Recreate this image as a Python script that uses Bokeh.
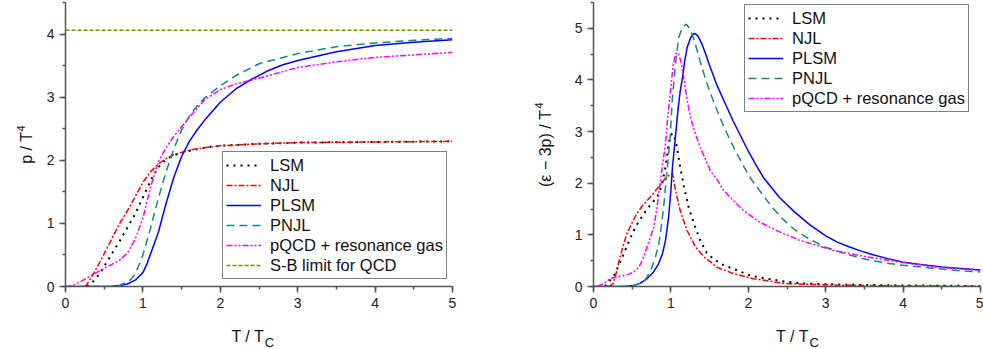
from math import pi

from bokeh.embed import file_html
from bokeh.layouts import column, row
from bokeh.models import Label, Range1d, SingleIntervalTicker
from bokeh.plotting import figure
from bokeh.resources import INLINE

FONT = "Liberation Sans"
AXIS = "#555555"
INK = "#111111"

# ---------------- pressure p / T^4 ----------------
lsm_p_T = [0.28, 0.3, 0.35, 0.4, 0.45, 0.5, 0.55, 0.6, 0.7, 0.8, 0.9, 1.0, 1.1, 1.2,
           1.3, 1.4, 1.6, 1.8, 2.0, 2.5, 3.0, 4.0, 5.0]
lsm_p = [0, 0.02, 0.07, 0.14, 0.22, 0.32, 0.42, 0.52, 0.72, 0.93, 1.15, 1.41, 1.68, 1.89,
         2.01, 2.08, 2.15, 2.2, 2.23, 2.26, 2.28, 2.29, 2.30]

njl_p_T = [0.25, 0.27, 0.3, 0.35, 0.4, 0.45, 0.5, 0.6, 0.7, 0.8, 0.9, 1.0, 1.1, 1.2,
           1.3, 1.4, 1.6, 1.8, 2.0, 2.5, 3.0, 4.0, 5.0]
njl_p = [0, 0.02, 0.08, 0.18, 0.29, 0.4, 0.52, 0.76, 1.0, 1.2, 1.42, 1.65, 1.82, 1.94,
         2.03, 2.09, 2.16, 2.2, 2.23, 2.26, 2.28, 2.29, 2.30]

plsm_p_T = [0, 0.5, 0.6, 0.7, 0.8, 0.9, 1.0, 1.05, 1.1, 1.2, 1.3, 1.4, 1.5, 1.6, 1.7,
            1.8, 2.0, 2.2, 2.4, 2.6, 2.8, 3.0, 3.5, 4.0, 4.5, 5.0]
plsm_p = [0, 0, 0.005, 0.015, 0.04, 0.1, 0.22, 0.35, 0.52, 0.86, 1.32, 1.73, 2.06, 2.3,
          2.48, 2.64, 2.92, 3.13, 3.28, 3.41, 3.51, 3.58, 3.72, 3.82, 3.87, 3.91]

pnjl_p_T = [0, 0.5, 0.6, 0.7, 0.8, 0.85, 0.9, 0.95, 1.0, 1.1, 1.2, 1.3, 1.4, 1.5, 1.6,
            1.7, 1.8, 2.0, 2.2, 2.5, 3.0, 3.5, 4.0, 4.5, 5.0]
pnjl_p = [0, 0, 0.005, 0.02, 0.07, 0.12, 0.2, 0.34, 0.5, 0.93, 1.4, 1.82, 2.18, 2.48, 2.7,
          2.86, 2.99, 3.18, 3.34, 3.53, 3.69, 3.8, 3.86, 3.9, 3.93]

pqcd_p_T = [0, 0.05, 0.1, 0.2, 0.3, 0.4, 0.5, 0.6, 0.7, 0.8, 0.9, 1.0, 1.1, 1.2, 1.3,
            1.4, 1.5, 1.6, 1.8, 2.0, 2.2, 2.5, 3.0, 3.5, 4.0, 4.5, 5.0]
pqcd_p = [0, 0.003, 0.02, 0.08, 0.15, 0.22, 0.29, 0.35, 0.42, 0.53, 0.75, 1.08, 1.58, 1.98,
          2.2, 2.38, 2.53, 2.68, 2.96, 3.12, 3.21, 3.3, 3.47, 3.56, 3.63, 3.67, 3.71]

sb_T = [0, 5]
sb_limit = [4.06, 4.06]

# ---------------- interaction measure (eps - 3p) / T^4 ----------------
lsm_i_T = [0.15, 0.22, 0.28, 0.33, 0.39, 0.45, 0.52, 0.58, 0.65, 0.72, 0.78, 0.84, 0.88,
           0.93, 0.97, 1.0, 1.02, 1.05, 1.08, 1.12, 1.17, 1.23, 1.3, 1.38, 1.47, 1.64,
           1.86, 2.03, 2.24, 2.5, 2.7, 3.1, 3.5, 4.0, 4.5, 5.0]
lsm_i = [0, 0.13, 0.25, 0.42, 0.63, 0.85, 1.08, 1.25, 1.41, 1.55, 1.66, 1.78, 1.95,
         2.31, 2.76, 2.93, 2.97, 2.88, 2.69, 2.31, 1.92, 1.53, 1.21, 0.89, 0.63, 0.44,
         0.31, 0.21, 0.15, 0.09, 0.06, 0.04, 0.03, 0.02, 0.015, 0.01]

njl_i_T = [0.2, 0.25, 0.28, 0.31, 0.37, 0.43, 0.5, 0.56, 0.62, 0.69, 0.76, 0.82, 0.88,
           0.93, 0.98, 1.02, 1.06, 1.12, 1.21, 1.32, 1.43, 1.6, 1.81, 2.07, 2.46, 3.0,
           3.5, 4.0, 5.0]
njl_i = [0, 0.05, 0.18, 0.37, 0.72, 1.02, 1.24, 1.41, 1.54, 1.66, 1.78, 1.89, 2.0,
         2.1, 2.16, 2.19, 1.86, 1.47, 1.08, 0.76, 0.57, 0.37, 0.25, 0.15, 0.06, 0.03,
         0.02, 0.01, 0.005]

plsm_i_T = [0, 0.4, 0.52, 0.6, 0.69, 0.77, 0.84, 0.89, 0.93, 0.97, 1.0, 1.02, 1.05, 1.09,
            1.12, 1.15, 1.18, 1.21, 1.25, 1.28, 1.31, 1.35, 1.4, 1.45, 1.5, 1.6, 1.7,
            1.8, 1.9, 2.0, 2.1, 2.2, 2.4, 2.6, 2.8, 3.0, 3.15, 3.3, 3.45, 3.6, 3.8, 4.0,
            4.25, 4.5, 4.75, 5.0]
plsm_i = [0, 0, 0.02, 0.06, 0.15, 0.27, 0.44, 0.63, 0.89, 1.34, 1.86, 2.31, 2.76, 3.40,
          3.78, 4.05, 4.38, 4.63, 4.8, 4.88, 4.9, 4.85, 4.7, 4.5, 4.28, 3.88, 3.55,
          3.22, 2.92, 2.62, 2.35, 2.1, 1.73, 1.44, 1.19, 0.98, 0.86, 0.77, 0.69, 0.62,
          0.54, 0.47, 0.42, 0.38, 0.35, 0.32]

pnjl_i_T = [0, 0.4, 0.52, 0.6, 0.65, 0.69, 0.75, 0.8, 0.84, 0.87, 0.91, 0.95, 0.99, 1.02,
            1.06, 1.1, 1.15, 1.2, 1.25, 1.3, 1.38, 1.45, 1.51, 1.58, 1.64, 1.75, 1.85,
            1.95, 2.05, 2.15, 2.3, 2.45, 2.6, 2.8, 3.0, 3.2, 3.4, 3.6, 3.8, 4.0, 4.4,
            4.7, 5.0]
pnjl_i = [0, 0, 0.02, 0.06, 0.1, 0.18, 0.35, 0.57, 0.8, 1.08, 1.6, 2.24, 2.88, 3.66,
          4.31, 4.82, 5.02, 5.08, 4.98, 4.78, 4.35, 4.0, 3.75, 3.47, 3.25, 2.88, 2.58,
          2.3, 2.05, 1.85, 1.55, 1.3, 1.1, 0.91, 0.76, 0.66, 0.57, 0.5, 0.45, 0.41, 0.35,
          0.31, 0.28]

pqcd_i_T = [0.05, 0.15, 0.22, 0.3, 0.39, 0.46, 0.52, 0.57, 0.61, 0.65, 0.69, 0.74, 0.78,
            0.82, 0.86, 0.9, 0.93, 0.96, 1.0, 1.03, 1.06, 1.08, 1.1, 1.13, 1.16, 1.19,
            1.23, 1.27, 1.33, 1.38, 1.45, 1.51, 1.6, 1.68, 1.81, 1.94, 2.14, 2.37, 2.67,
            3.1, 3.54, 3.97, 4.4, 5.0]
pqcd_i = [0, 0.07, 0.16, 0.19, 0.21, 0.24, 0.28, 0.35, 0.44, 0.58, 0.76, 0.98, 1.15,
          1.53, 2.0, 2.45, 2.75, 3.3, 3.86, 4.3, 4.5, 4.53, 4.5, 4.35, 4.1, 3.8,
          3.45, 3.18, 2.9, 2.69, 2.45, 2.24, 2.06, 1.86, 1.66, 1.47, 1.25, 1.08, 0.89,
          0.7, 0.57, 0.47, 0.38, 0.31]

# line styles for each model
STYLES = {
    "LSM": dict(line_color="black", line_dash="2 5", line_width=2),
    "NJL": dict(line_color="#ff0000", line_dash="6 2 2 2", line_width=1.5),
    "PLSM": dict(line_color="#0000ff", line_dash="solid", line_width=1.5),
    "PNJL": dict(line_color="#138a80", line_dash="8 5", line_width=1.5),
    "pQCD + resonance gas": dict(line_color="#ff00ff", line_dash="6 2 2 2 2 2", line_width=1.5),
    "S-B limit for QCD": dict(line_color="#8a8a00", line_dash="4 2", line_width=1.5),
}


def make_panel(width, y_max):
    p = figure(width=width, height=319, x_range=Range1d(0, 5), y_range=Range1d(0, y_max),
               output_backend="svg", toolbar_location=None,
               min_border_left=27, min_border_right=width - 27 - 387,
               min_border_top=2, min_border_bottom=33)
    p.outline_line_color = None
    p.grid.visible = False
    for ax in (p.xaxis[0], p.yaxis[0]):
        ax.ticker = SingleIntervalTicker(interval=1, num_minor_ticks=2)
        ax.axis_line_color = AXIS
        ax.axis_line_width = 1.5
        ax.major_tick_line_color = AXIS
        ax.major_tick_line_width = 1.5
        ax.minor_tick_line_color = AXIS
        ax.minor_tick_line_width = 1.5
        ax.major_tick_in = 0
        ax.major_tick_out = 6
        ax.minor_tick_in = 0
        ax.minor_tick_out = 3
        ax.major_label_text_font = FONT
        ax.major_label_text_font_size = "14px"
        ax.major_label_text_color = "#222222"
        ax.major_label_standoff = 5
    return p


def style_legend(p, loc):
    lg = p.legend[0]
    lg.location = loc
    lg.border_line_color = "black"
    lg.border_line_width = 1
    lg.background_fill_color = "white"
    lg.background_fill_alpha = 1.0
    lg.label_text_font = FONT
    lg.label_text_font_size = "16.5px"
    lg.label_text_color = INK
    lg.glyph_width = 35
    lg.glyph_height = 20
    lg.label_height = 20
    lg.spacing = 0
    lg.padding = 3
    lg.margin = 0
    lg.label_standoff = 9


def text_strip(width, height):
    """A bare canvas, measured in pixels, that holds an axis title."""
    f = figure(width=width, height=height, x_range=Range1d(0, width),
               y_range=Range1d(0, height), output_backend="svg", toolbar_location=None,
               x_axis_type=None, y_axis_type=None, min_border=0)
    f.outline_line_color = None
    f.grid.visible = False
    return f


def put(f, text, x, y, size, angle=0.0, align="left"):
    f.add_layout(Label(x=x, y=y, text=text, text_font=FONT, text_font_size=size,
                       text_color=INK, angle=angle, text_align=align,
                       text_baseline="alphabetic"))


def x_title(width):
    f = text_strip(width, 30)
    put(f, "T / T", 232.2, 13, "16px", align="right")
    put(f, "C", 232.7, 7.5, "13px")
    return f


# ---------- left panel: pressure ----------
p1 = make_panel(452, 4.5)
p1.line(lsm_p_T, lsm_p, legend_label="LSM", **STYLES["LSM"])
p1.line(njl_p_T, njl_p, legend_label="NJL", **STYLES["NJL"])
p1.line(plsm_p_T, plsm_p, legend_label="PLSM", **STYLES["PLSM"])
p1.line(pnjl_p_T, pnjl_p, legend_label="PNJL", **STYLES["PNJL"])
p1.line(pqcd_p_T, pqcd_p, legend_label="pQCD + resonance gas", **STYLES["pQCD + resonance gas"])
p1.line(sb_T, sb_limit, legend_label="S-B limit for QCD", **STYLES["S-B limit for QCD"])
style_legend(p1, (157, 7))

y1 = text_strip(38, 349)
put(y1, "p / T", 26, 185.7, "16px", angle=pi / 2)
put(y1, "4", 20.5, 218, "11px", angle=pi / 2)

# ---------- right panel: interaction measure ----------
p2 = make_panel(417, 5.5)
p2.line(lsm_i_T, lsm_i, legend_label="LSM", **STYLES["LSM"])
p2.line(njl_i_T, njl_i, legend_label="NJL", **STYLES["NJL"])
p2.line(plsm_i_T, plsm_i, legend_label="PLSM", **STYLES["PLSM"])
p2.line(pnjl_i_T, pnjl_i, legend_label="PNJL", **STYLES["PNJL"])
p2.line(pqcd_i_T, pqcd_i, legend_label="pQCD + resonance gas", **STYLES["pQCD + resonance gas"])
style_legend(p2, (151, 174))

y2 = text_strip(76, 349)
put(y2, "(ε − 3p) / T", 55, 162.5, "16px", angle=pi / 2)
put(y2, "4", 48.5, 241, "11px", angle=pi / 2)

layout = row(y1, column(p1, x_title(452)), y2, column(p2, x_title(417)))
open("out.html", "w").write(file_html(layout, INLINE))
